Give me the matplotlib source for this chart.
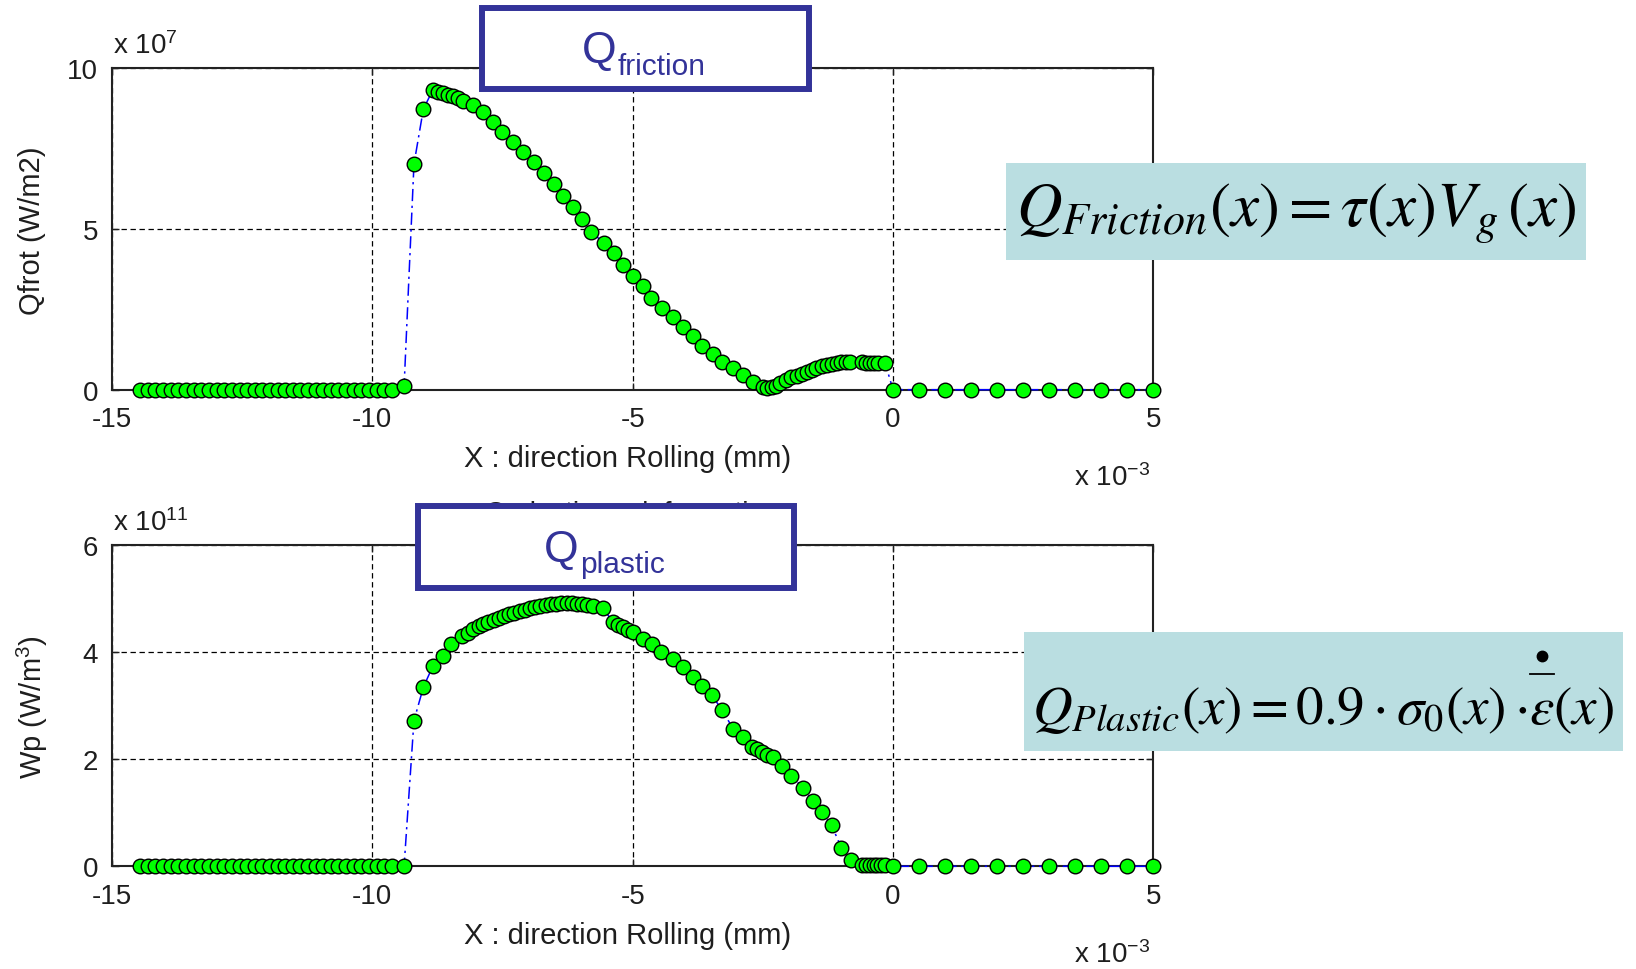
import matplotlib
matplotlib.use("Agg")
import matplotlib.pyplot as plt
from matplotlib.patches import Rectangle
from matplotlib.lines import Line2D

plt.rcParams['font.family'] = ['Liberation Sans', 'DejaVu Sans']
plt.rcParams['mathtext.fontset'] = 'custom'
plt.rcParams['mathtext.rm'] = 'Liberation Sans'
plt.rcParams['mathtext.it'] = 'Liberation Sans:italic'
plt.rcParams['mathtext.bf'] = 'Liberation Sans:bold'

# ---------------- data (x in 1e-3 m, heat terms in 1e7 W/m2 and 1e11 W/m3) ----------------
inlet_x = [-14.46, -14.31, -14.17, -14.02, -13.87, -13.73, -13.58, -13.43, -13.29,
           -13.14, -12.99, -12.85, -12.70, -12.55, -12.41, -12.26, -12.11, -11.97,
           -11.82, -11.67, -11.53, -11.38, -11.23, -11.09, -10.94, -10.79, -10.65,
           -10.50, -10.35, -10.21, -10.06, -9.91, -9.77, -9.62]
inlet_val = [0.0] * len(inlet_x)

outlet_x = [0.0, 0.5, 1.0, 1.5, 2.0, 2.5, 3.0, 3.5, 4.0, 4.5, 5.0]
outlet_val = [0.0] * len(outlet_x)

friction_x = [-9.39, -9.20, -9.02, -8.84, -8.73, -8.64, -8.54, -8.45, -8.35, -8.25,
              -8.06, -7.87, -7.68, -7.50, -7.30, -7.11, -6.90, -6.70, -6.52, -6.34,
              -6.15, -5.97, -5.80, -5.55, -5.36, -5.18, -5.00, -4.81, -4.64, -4.44,
              -4.23, -4.04, -3.85, -3.66, -3.46, -3.29, -3.08, -2.88, -2.68, -2.49,
              -2.41, -2.33, -2.25, -2.17, -2.06, -1.95, -1.85, -1.75, -1.66, -1.56,
              -1.47, -1.37, -1.27, -1.18, -1.08, -0.99, -0.91, -0.83, -0.60, -0.52,
              -0.44, -0.36, -0.28, -0.15]
friction_q = [0.10, 7.02, 8.73, 9.32, 9.27, 9.23, 9.17, 9.13, 9.07, 8.99,
              8.86, 8.63, 8.32, 8.01, 7.70, 7.39, 7.08, 6.74, 6.40, 6.04,
              5.67, 5.31, 4.92, 4.56, 4.25, 3.88, 3.55, 3.22, 2.84, 2.53,
              2.25, 1.94, 1.66, 1.37, 1.11, 0.86, 0.66, 0.46, 0.25, 0.07,
              0.05, 0.07, 0.13, 0.21, 0.30, 0.39, 0.44, 0.49, 0.56, 0.62,
              0.68, 0.73, 0.77, 0.80, 0.83, 0.85, 0.85, 0.85, 0.85, 0.84,
              0.83, 0.83, 0.83, 0.83]

plastic_x = [-9.39, -9.20, -9.02, -8.84, -8.65, -8.48, -8.28, -8.17, -8.06, -7.96,
             -7.87, -7.77, -7.67, -7.57, -7.47, -7.37, -7.27, -7.17, -7.07, -6.97,
             -6.87, -6.77, -6.67, -6.57, -6.47, -6.37, -6.27, -6.17, -6.07, -5.97,
             -5.87, -5.77, -5.56, -5.38, -5.28, -5.18, -5.09, -4.99, -4.80, -4.62,
             -4.45, -4.23, -4.04, -3.85, -3.67, -3.48, -3.29, -3.07, -2.88, -2.70,
             -2.61, -2.52, -2.41, -2.31, -2.14, -1.95, -1.72, -1.54, -1.37, -1.18,
             -0.99, -0.81, -0.60, -0.52, -0.44, -0.37, -0.30, -0.23, -0.16]
plastic_w = [0.00, 2.72, 3.34, 3.73, 3.92, 4.15, 4.29, 4.36, 4.42, 4.48,
             4.52, 4.56, 4.60, 4.64, 4.67, 4.70, 4.73, 4.76, 4.78, 4.81,
             4.83, 4.85, 4.87, 4.89, 4.90, 4.91, 4.91, 4.91, 4.90, 4.89,
             4.87, 4.85, 4.81, 4.55, 4.50, 4.46, 4.41, 4.37, 4.24, 4.15,
             4.00, 3.87, 3.71, 3.54, 3.37, 3.20, 2.92, 2.57, 2.41, 2.22,
             2.18, 2.14, 2.08, 2.03, 1.87, 1.68, 1.46, 1.22, 1.01, 0.77,
             0.34, 0.12, 0.02, 0.02, 0.02, 0.02, 0.02, 0.02, 0.02]

x_ticks = [-15, -10, -5, 0, 5]
friction_yticks = [0, 5, 10]
plastic_yticks = [0, 2, 4, 6]

# ---------------- figure layout (pixel helpers) ----------------
W, H = 1636, 970
fig = plt.figure(figsize=(W / 100, H / 100), dpi=100, facecolor='white')


def fx(px):
    return px / W


def fy(py):
    return 1.0 - py / H


AX_L, AX_R = 112.0, 1153.3
ax1 = fig.add_axes([fx(AX_L), fy(390.7), (AX_R - AX_L) / W, (390.7 - 69.3) / H])
ax2 = fig.add_axes([fx(AX_L), fy(867.3), (AX_R - AX_L) / W, (867.3 - 545.7) / H])

TXT = '#1e1e1e'
line_kw = dict(color='#0000ff', lw=1.1, linestyle=(0, (8, 3, 1.5, 3)),
               marker='o', ms=10.5, mfc='#00ff00', mec='black', mew=1.0,
               clip_on=False, zorder=3)


def style_axes(ax, yticks, ylim):
    ax.set_xlim(-15, 5)
    ax.set_ylim(*ylim)
    ax.set_xticks(x_ticks)
    ax.set_xticklabels([str(t) for t in x_ticks])
    ax.set_yticks(yticks)
    ax.set_yticklabels([str(t) for t in yticks])
    ax.grid(True, color='black', linestyle=(0, (4.3, 2.9)), lw=0.9)
    ax.tick_params(direction='in', length=5, width=1, top=True, right=True,
                   labelsize=20, colors=TXT)
    ax.tick_params(axis='x', pad=12)
    ax.tick_params(axis='y', pad=10)
    for s in ax.spines.values():
        s.set_linewidth(1.5)
        s.set_color('#222222')
    ax.set_axisbelow(True)


ax1.plot(inlet_x + friction_x + outlet_x, inlet_val + friction_q + outlet_val, **line_kw)
style_axes(ax1, friction_yticks, (0, 10))

ax2.plot(inlet_x + plastic_x + outlet_x, inlet_val + plastic_w + outlet_val, **line_kw)
style_axes(ax2, plastic_yticks, (0, 6))

# axis labels and MATLAB-style exponent labels
for dy, ylab, exp_y in ((0, 'Qfrot (W/m2)', 'x 10$^{\\mathrm{7}}$'),
                        (476.6, 'Wp (W/m$^{\\mathrm{3}}$)', 'x 10$^{\\mathrm{11}}$')):
    fig.text(fx(628), fy(459 + dy), 'X : direction Rolling (mm)', fontsize=21,
             color=TXT, ha='center', va='center')
    fig.text(fx(32), fy(231 + dy), ylab, fontsize=21, color=TXT, rotation=90,
             ha='center', va='center')
    fig.text(fx(113), fy(54 + dy), exp_y, fontsize=20, color=TXT,
             ha='left', va='baseline')
    fig.text(fx(1150), fy(486 + dy), 'x 10$^{\\mathrm{-3}}$', fontsize=20, color=TXT,
             ha='right', va='baseline')

# title of the lower plot, partly hidden by the label box
fig.text(fx(632), fy(521), 'Q plastique deformation', fontsize=20, color=TXT,
         ha='center', va='baseline', zorder=1)

# ---------------- labelled boxes ----------------
NAVY = '#333399'


def label_box(x0, y0, x1, y1, sub, qx, qy, sy):
    fig.add_artist(Rectangle((fx(x0), fy(y1)), (x1 - x0) / W, (y1 - y0) / H,
                             transform=fig.transFigure, facecolor='white',
                             edgecolor=NAVY, lw=4.3, zorder=2))
    fig.text(fx(qx), fy(qy), 'Q', fontsize=32, color=NAVY, ha='right',
             va='baseline', zorder=4)
    fig.text(fx(qx + 1), fy(sy), sub, fontsize=21.5, color=NAVY, ha='left',
             va='baseline', zorder=4)


label_box(482.5, 9.4, 809, 90, 'friction', 617, 63.3, 75)
label_box(418, 506.7, 794.3, 589, 'plastic', 579, 561.7, 572.7)

# ---------------- formula boxes ----------------
FORM_BG = '#badee1'
fig.add_artist(Rectangle((fx(1006), fy(261)), 580 / W, 97 / H, transform=fig.transFigure,
                         facecolor=FORM_BG, edgecolor='none', zorder=2))
fig.add_artist(Rectangle((fx(1024), fy(752)), 599 / W, 119 / H, transform=fig.transFigure,
                         facecolor=FORM_BG, edgecolor='none', zorder=2))

renderer = fig.canvas.get_renderer()
f_kw = dict(math_fontfamily='stix', color='black', ha='left', va='baseline', zorder=4)

t_top = fig.text(fx(1016), fy(227), r'$Q_{Friction}(x) = \tau(x)V_g\,(x)$',
                 fontsize=40, **f_kw)
w = t_top.get_window_extent(renderer).width
t_top.set_fontsize(40 * 560 / w)

# lower formula: left part, then epsilon-dot part placed right after it
left_str = r'$Q_{Plastic}(x) = 0.9\cdot\sigma_0(x)\cdot$'
right_str = r'$\varepsilon(x)$'
t_a = fig.text(fx(1032), fy(724), left_str, fontsize=40, **f_kw)
t_b = fig.text(fx(1032), fy(724), right_str, fontsize=40, **f_kw)
total = t_a.get_window_extent(renderer).width + t_b.get_window_extent(renderer).width
fs_bot = 40 * 580 / total
t_a.set_fontsize(fs_bot)
t_b.set_fontsize(fs_bot)
bb_a = t_a.get_window_extent(renderer)
t_b.set_x((bb_a.x1 + 2) / W)
t_eps = fig.text((bb_a.x1 + 2) / W, fy(724), r'$\varepsilon$', fontsize=fs_bot, **f_kw)
bb_e = t_eps.get_window_extent(renderer)
t_eps.remove()
cx = (bb_e.x0 + bb_e.x1) / 2.0
fig.add_artist(Line2D([fx(cx)], [fy(657)], marker='o', ms=7.5, color='black',
                      linestyle='none', transform=fig.transFigure, zorder=5))
fig.add_artist(Line2D([fx(cx - 12), fx(cx + 12)], [fy(675), fy(675)], color='black',
                      lw=1.3, transform=fig.transFigure, zorder=5))

fig.savefig('out.png', dpi=100, facecolor='white')
